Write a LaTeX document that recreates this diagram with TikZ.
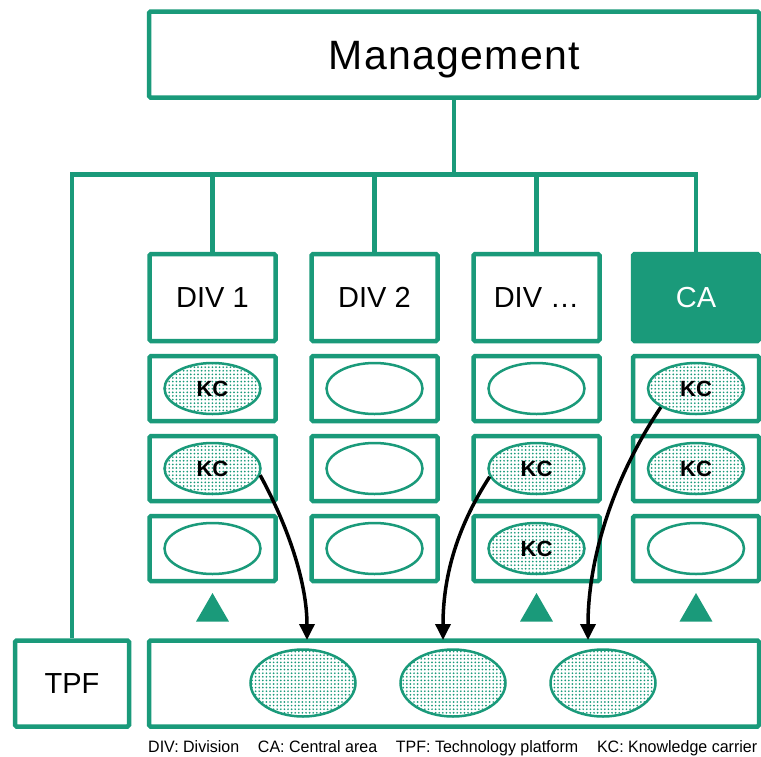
\documentclass[tikz,border=0pt]{standalone}
\usepackage{fontspec}
\setmainfont{Liberation Sans}
\usetikzlibrary{patterns,shapes.geometric,arrows.meta}
\definecolor{orggreen}{HTML}{1A9A7A}

% coarse dot raster for knowledge carriers
\pgfdeclarepatternformonly{kcdots}{\pgfqpoint{-1.2pt}{-1.2pt}}{\pgfqpoint{1.2pt}{1.2pt}}%
  {\pgfqpoint{3.6pt}{3.6pt}}%
  {\pgfpathcircle{\pgfqpoint{0pt}{0pt}}{0.95pt}\pgfusepath{fill}}

\begin{document}
\begin{tikzpicture}[x=1pt,y=-1pt,
  frame/.style={draw=orggreen, line width=4.5pt, rounded corners=1.5pt, inner sep=0pt},
  unitbox/.style={frame, fill=white, minimum width=126pt, minimum height=87pt,
    font=\fontsize{29}{29}\selectfont},
  cellbox/.style={frame, fill=white, minimum width=126pt, minimum height=65pt},
  carrier/.style={ellipse, draw=orggreen, line width=2.5pt, inner sep=0pt,
    minimum width=96pt, minimum height=51pt},
  kc/.style={carrier, preaction={fill=white}, pattern=kcdots,
    pattern color=orggreen, font=\bfseries\fontsize{22}{22}\selectfont},
  tree/.style={draw=orggreen, line width=4.5pt, miter limit=10},
  rise/.style={fill=orggreen, draw=none, regular polygon, regular polygon sides=3,
    minimum size=38pt, inner sep=0pt},
  flow/.style={draw=black, line width=3.5pt, -{Triangle[width=15pt,length=16pt]}}
]
\useasboundingbox (0,0) rectangle (761,756);

% management box
\node[frame, minimum width=610pt, minimum height=86pt, text height=29pt, text depth=0pt,
  font=\addfontfeature{LetterSpace=3}\fontsize{41}{41}\selectfont] (mgmt) at (454,54.5)
  {M\kern2pt anagement};

% divisions and central area
\node[unitbox] (div1) at (212.5,297.5) {DIV 1};
\node[unitbox] (div2) at (374.5,297.5) {DIV 2};
\node[unitbox] (div3) at (536.5,297.5) {DIV \dots};
\node[unitbox, fill=orggreen, text=white] (ca) at (696,297.5) {CA};

% technology platform
\node[frame, minimum width=114pt, minimum height=86pt,
  font=\fontsize{29}{29}\selectfont] (tpf) at (72,683.5) {TPF};
\node[frame, minimum width=610pt, minimum height=86pt] (platform) at (454,683.5) {};

% organisation lines
\coordinate (bus) at (0,174.5);
\draw[tree] (mgmt.south) -- (mgmt.south |- bus);
\draw[tree] (tpf.north) |- (ca.north |- bus) -- (ca.north);
\draw[tree] (div1.north) -- (div1.north |- bus);
\draw[tree] (div2.north) -- (div2.north |- bus);
\draw[tree] (div3.north) -- (div3.north |- bus);

% cells: column 1 (DIV 1)
\node[cellbox] (c11) at (212.5,388.5) {};
\node[cellbox] (c12) at (212.5,468.5) {};
\node[cellbox] (c13) at (212.5,548.5) {};
\node[kc] (e11) at (c11) {KC};
\node[kc] (e12) at (c12) {KC};
\node[carrier] (e13) at (c13) {};
% column 2 (DIV 2)
\node[cellbox] (c21) at (374.5,388.5) {};
\node[cellbox] (c22) at (374.5,468.5) {};
\node[cellbox] (c23) at (374.5,548.5) {};
\node[carrier] (e21) at (c21) {};
\node[carrier] (e22) at (c22) {};
\node[carrier] (e23) at (c23) {};
% column 3 (DIV ...)
\node[cellbox] (c31) at (536.5,388.5) {};
\node[cellbox] (c32) at (536.5,468.5) {};
\node[cellbox] (c33) at (536.5,548.5) {};
\node[carrier] (e31) at (c31) {};
\node[kc] (e32) at (c32) {KC};
\node[kc] (e33) at (c33) {KC};
% column 4 (CA)
\node[cellbox] (c41) at (696,388.5) {};
\node[cellbox] (c42) at (696,468.5) {};
\node[cellbox] (c43) at (696,548.5) {};
\node[kc] (e41) at (c41) {KC};
\node[kc] (e42) at (c42) {KC};
\node[carrier] (e43) at (c43) {};

% upward triangles
\node[rise] (t1) at (212.5,612) {};
\node[rise] (t3) at (536.5,612) {};
\node[rise] (t4) at (696,612) {};

% knowledge carriers on the platform
\node[kc, minimum width=105pt, minimum height=67pt] (p1) at (303,683) {};
\node[kc, minimum width=105pt, minimum height=67pt] (p2) at (453,683) {};
\node[kc, minimum width=105pt, minimum height=67pt] (p3) at (603,683) {};

% transfer arrows
\coordinate (in1) at (307,640);
\coordinate (in2) at (443,640);
\coordinate (in3) at (588,640);
\draw[flow] (e12.-8) .. controls (290,530) and (307,585) .. (in1);
\draw[flow] (e32.190) .. controls (455,530) and (443,580) .. (in2);
\draw[flow] (e41.208) .. controls (612,480) and (588,560) .. (in3);

% legend
\node[anchor=base west, inner sep=0pt,
  font=\addfontfeature{FakeStretch=0.97}\fontsize{16.5}{16.5}\selectfont] (legend) at (148,752)
  {\makebox[609pt][s]{DIV: Division\hfill CA: Central area\hfill TPF: Technology platform\hfill KC: Knowledge carrier}};
\end{tikzpicture}
\end{document}
